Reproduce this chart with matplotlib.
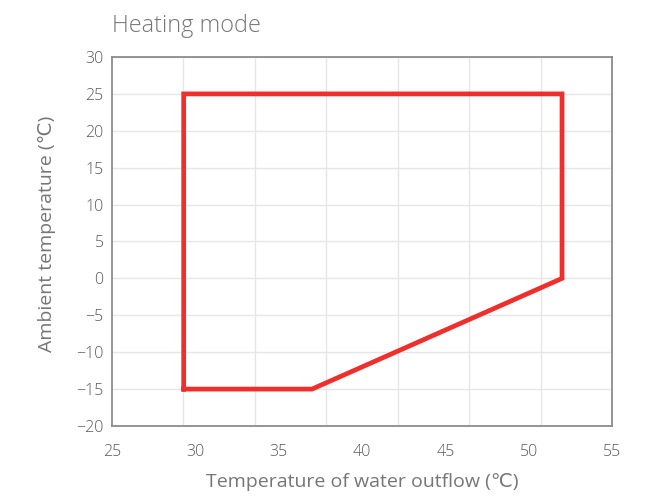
import numpy as np
import matplotlib
matplotlib.use("Agg")
import matplotlib.pyplot as plt

# operating envelope (water outflow temp, ambient temp)
water_out = [29.3, 29.3, 52, 52, 37, 29.3]
ambient = [-15, 25, 25, 0, -15, -15]

x_ticks = [25, 30, 35, 40, 45, 50, 55]
y_ticks = [30, 25, 20, 15, 10, 5, 0, -5, -10, -15, -20]
y_tick_labels = ["30", "25", "20", "15", "10", "5", "0", "\u22125", "\u221210", "\u221215", "\u221220"]

plt.rcParams["font.family"] = ["Open Sans", "DejaVu Sans"]
plt.rcParams["font.weight"] = "light"
text_color = "#767676"

fig = plt.figure(figsize=(6.52, 4.97), dpi=100)
ax = fig.add_axes([0.1718, 0.1429, 0.7669, 0.7424])

ax.set_xlim(25, 55)
ax.set_ylim(-20, 30)

ax.set_xticks(x_ticks)
ax.set_yticks(y_ticks)
ax.set_yticklabels(y_tick_labels)
ax.set_xticks(np.linspace(25, 55, 8), minor=True)
ax.tick_params(axis="both", which="both", length=0, labelsize=11.5, colors="#5a5a5a")
ax.tick_params(axis="x", pad=13)
ax.tick_params(axis="y", pad=6)

ax.grid(False, axis="x", which="major")
ax.grid(True, axis="x", which="minor", color="#e6e6e6", lw=1)
ax.grid(True, axis="y", which="major", color="#e6e6e6", lw=1)
ax.set_axisbelow(True)

for s in ax.spines.values():
    s.set_color("#8c8c8c")
    s.set_linewidth(1.3)

ax.plot(water_out, ambient, color="#ee2f2c", lw=3.4, solid_joinstyle="miter")

ax.set_xlabel("Temperature of water outflow (\u2103)", fontsize=14, color=text_color, labelpad=9)
ax.set_ylabel("Ambient temperature (\u2103)", fontsize=14, color=text_color, labelpad=9)
ax.yaxis.set_label_coords(-0.112, 0.52)
fig.text(0.1718, 0.947, "Heating mode", fontsize=16.8, color=text_color, ha="left", va="center")

fig.savefig("out.png", dpi=100)
